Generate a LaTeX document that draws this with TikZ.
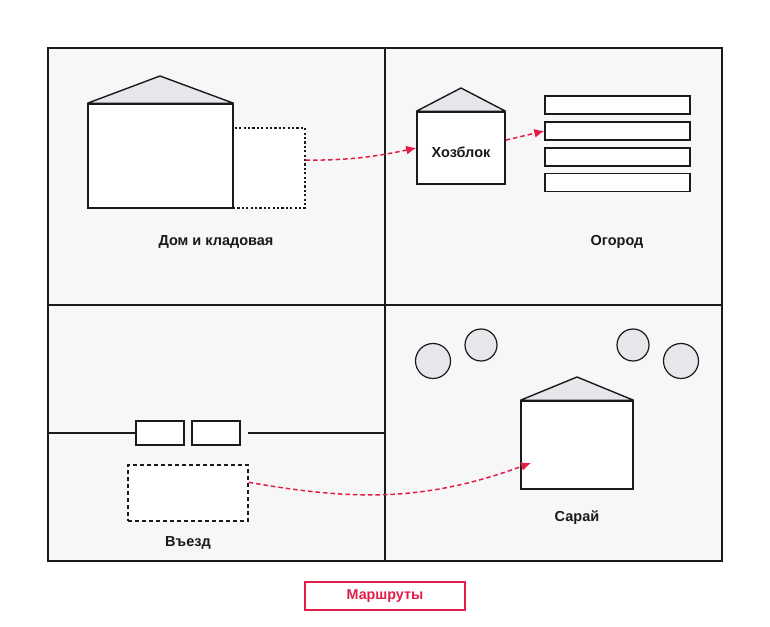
\documentclass[tikz,border=0pt]{standalone}
\usepackage{fontspec}
\setmainfont{Liberation Sans}
\usetikzlibrary{calc,arrows.meta,shapes.geometric}
\definecolor{bgpanel}{HTML}{F7F7F7}
\definecolor{roofgray}{HTML}{E5E7EB}
\definecolor{routered}{HTML}{E11D48}
\definecolor{ink}{HTML}{1A1A1A}
\tikzset{
  x=1pt,y=1pt,
  box/.style={draw=ink,line width=1.4pt,fill=white,inner sep=0pt,rectangle},
  dotbox/.style={draw=ink,line width=1.4pt,fill=white,inner sep=0pt,rectangle,dash pattern=on 2.2pt off 2.2pt},
  dashbox/.style={draw=ink,line width=1.4pt,fill=white,inner sep=0pt,rectangle,dash pattern=on 4pt off 3pt},
  roof/.style={draw=ink,line width=1.4pt,fill=roofgray,line join=bevel},
  tree/.style={draw=ink,line width=1.2pt,fill=roofgray,ellipse,inner sep=0pt},
  lbl/.style={font=\fontsize{14.5}{17}\selectfont\bfseries,text=ink},
  route/.style={draw=routered,line width=1.5pt,dash pattern=on 4.5pt off 3pt,-{Latex[length=10pt,width=9pt]}},
  wall/.style={draw=ink,line width=1.5pt},
}
\begin{document}
\begin{tikzpicture}
\useasboundingbox (0,0) rectangle (770,626);
% panels
\fill[bgpanel] (48,65) rectangle (722,578);
\draw[wall] (48,65) rectangle (722,578);
\draw[wall] (385,65) -- (385,578);
\draw[wall] (48,321) -- (722,321);
% top-left: house and storage
\node[box,minimum width=145pt,minimum height=104pt] (house) at (160.5,470) {};
\coordinate (houseapex) at (160,550);
\draw[roof] (house.north west) -- (houseapex) -- (house.north east) -- cycle;
\node[dotbox,minimum width=72pt,minimum height=80pt] (store) at (269,458) {};
\draw[ink,line width=1.4pt] (house.north east) -- (house.south east);
\node[lbl] (lhouse) at (216,384) {Дом и кладовая};
% top-right: utility block and garden
\node[box,minimum width=88pt,minimum height=72pt] (hoz) at (461,478) {};
\node[lbl] (lhoz) at (461,474) {Хозблок};
\coordinate (hozapex) at (461,538);
\draw[roof] (hoz.north west) -- (hozapex) -- (hoz.north east) -- cycle;
\node[box,minimum width=145pt,minimum height=18pt] (bed1) at (617.5,521) {};
\node[box,minimum width=145pt,minimum height=18pt] (bed2) at (617.5,495) {};
\node[box,minimum width=145pt,minimum height=18pt] (bed3) at (617.5,469) {};
\node[box,minimum width=145pt,minimum height=18pt] (bed4) at (617.5,443.5) {};
\node[lbl] (lgarden) at (617,384) {Огород};
% bottom-left: entry
\coordinate (fenceL) at (48,193);
\coordinate (fenceR) at (385,193);
\node[box,minimum width=48pt,minimum height=24pt] (gate1) at (160,193) {};
\node[box,minimum width=48pt,minimum height=24pt] (gate2) at (216,193) {};
\coordinate (fenceR0) at (248,193);
\draw[wall] (fenceL) -- (gate1.west);
\draw[wall] (fenceR0) -- (fenceR);
\node[dashbox,minimum width=120pt,minimum height=56pt] (entry) at (188,133) {};
\node[lbl] (lentry) at (188,83) {Въезд};
% bottom-right: trees and shed
\node[tree,minimum width=35pt,minimum height=35pt] (t1) at (433,265) {};
\node[tree,minimum width=32pt,minimum height=32pt] (t2) at (481,281) {};
\node[tree,minimum width=32pt,minimum height=32pt] (t3) at (633,281) {};
\node[tree,minimum width=35pt,minimum height=35pt] (t4) at (681,265) {};
\node[box,minimum width=112pt,minimum height=88pt] (shed) at (577,181) {};
\coordinate (shedapex) at (577,249);
\draw[roof] (shed.north west) -- (shedapex) -- (shed.north east) -- cycle;
\node[lbl] (lshed) at (577,108) {Сарай};
\coordinate (shedin) at (531,163);
% routes
\draw[route] (store.12.5) to[out=0,in=192] (hoz.west);
\draw[route] (hoz.10) -- (bed2.west);
\draw[route] (entry.10.4) to[out=-10,in=200] (shedin);
% legend button
\node[draw=routered,line width=1.4pt,fill=white,minimum width=160pt,minimum height=28pt,inner sep=0pt,text=routered,font=\fontsize{14.3}{16}\selectfont\bfseries] (legend) at (385,30) {Маршруты};
\end{tikzpicture}
\end{document}
